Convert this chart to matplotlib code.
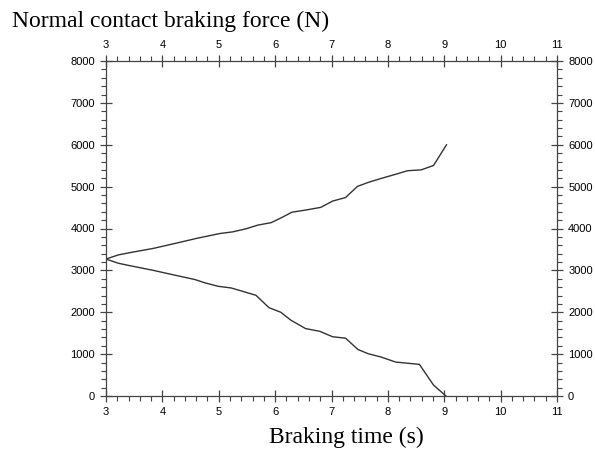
import numpy as np
import matplotlib
matplotlib.use('Agg')
import matplotlib.pyplot as plt
from matplotlib.ticker import MultipleLocator

# braking time (s) and normal force (N)
t_up = [3.0, 3.22, 3.43, 3.84, 4.31, 4.61, 5.02, 5.25, 5.49, 5.69, 5.93, 6.10,
        6.30, 6.54, 6.81, 7.02, 7.25, 7.46, 7.65, 7.88, 8.15, 8.35, 8.59, 8.81, 9.04]
f_up = [3270, 3370, 3425, 3525, 3670, 3765, 3880, 3920, 3995, 4080, 4140, 4250,
        4390, 4440, 4505, 4655, 4740, 5005, 5100, 5195, 5300, 5380, 5400, 5505, 6000]

t_low = [3.0, 3.22, 3.43, 3.84, 4.14, 4.58, 4.76, 4.99, 5.22, 5.46, 5.66, 5.89,
         6.10, 6.28, 6.54, 6.79, 7.02, 7.25, 7.47, 7.65, 7.88, 8.14, 8.56, 8.81, 9.03]
f_low = [3270, 3170, 3110, 3000, 2910, 2780, 2700, 2620, 2580, 2485, 2405, 2110,
         2000, 1810, 1610, 1545, 1415, 1380, 1110, 1010, 930, 810, 755, 260, 0]

plt.rcParams['font.family'] = ['Liberation Sans', 'DejaVu Sans']

fig = plt.figure(figsize=(5.95, 4.5), dpi=100)
ax = fig.add_axes([106/595, 54/450, 451/595, 335/450])

ax.plot(t_up, f_up, c='#333333', lw=1.0)
ax.plot(t_low, f_low, c='#333333', lw=1.0)

ax.set_xlim(3, 11)
ax.set_ylim(0, 8000)
ax.xaxis.set_major_locator(MultipleLocator(1))
ax.xaxis.set_minor_locator(MultipleLocator(0.2))
ax.yaxis.set_major_locator(MultipleLocator(1000))
ax.yaxis.set_minor_locator(MultipleLocator(200))

for s in ax.spines.values():
    s.set_color('#444444')
    s.set_linewidth(0.9)

ax.tick_params(which='both', top=True, right=True, labeltop=True, labelright=True,
               colors='#444444', labelcolor='black', labelsize=8)
ax.tick_params(which='major', direction='inout', length=8, width=0.9, pad=4)
ax.tick_params(which='minor', direction='out', length=3.6, width=0.8)

fig.text(12/595, 1 - 27/450, 'Normal contact braking force (N)',
         family='Liberation Serif', fontsize=17, va='baseline', ha='left')
fig.text(346/595, 1 - 443/450, 'Braking time (s)',
         family='Liberation Serif', fontsize=17, va='baseline', ha='center')

fig.savefig('out.png', dpi=100)
